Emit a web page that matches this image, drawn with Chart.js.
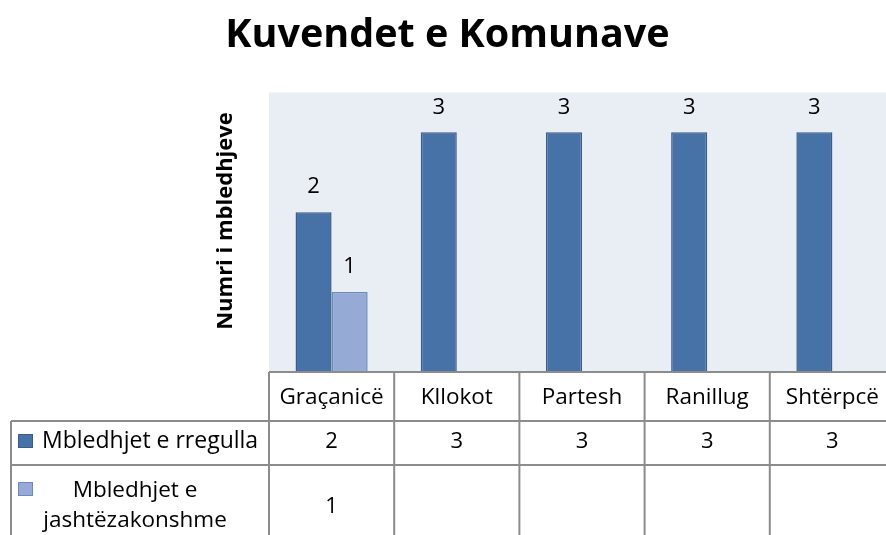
<!DOCTYPE html>
<html>
<head>
<meta charset="utf-8">
<script src="https://cdn.jsdelivr.net/npm/chart.js@4/dist/chart.umd.min.js"></script>
<style>
html,body{margin:0;padding:0;overflow:hidden;background:#fff;}
#wrap{position:relative;width:896px;height:535px;}
</style>
</head>
<body>
<div id="wrap"><canvas id="c" width="896" height="535"></canvas></div>
<script>
const chartTitle = 'Kuvendet e Komunave';
const yAxisTitle = 'Numri i mbledhjeve';
const categories = ['Graçanicë', 'Kllokot', 'Partesh', 'Ranillug', 'Shtërpcë'];
const seriesNames = ['Mbledhjet e rregulla', 'Mbledhjet e jashtëzakonshme'];
const regularMeetings = [2, 3, 3, 3, 3];
const extraordinaryMeetings = [1, null, null, null, null];
const seriesLabelLines = [['Mbledhjet e rregulla'], ['Mbledhjet e', 'jashtëzakonshme']];

const FONT = '"Open Sans", sans-serif';
const darkFill = '#4672A8', darkBorder = '#385D8A';
const lightFill = '#95ABD5', lightBorder = '#6D88BA';
const plotBg = '#E9EDF4';
const lineColor = '#8C8C8C';

const bgPlugin = {
  id: 'plotBg',
  beforeDraw(chart) {
    const {ctx, chartArea: a} = chart;
    ctx.save();
    ctx.fillStyle = plotBg;
    ctx.fillRect(a.left, a.top, a.right - a.left, a.bottom - a.top);
    ctx.restore();
  }
};

const yTitlePlugin = {
  id: 'yTitle',
  afterDraw(chart) {
    const ctx = chart.ctx;
    ctx.save();
    ctx.translate(226, 221);
    ctx.rotate(-Math.PI / 2);
    ctx.font = 'bold 22px ' + FONT;
    ctx.fillStyle = '#000';
    ctx.textAlign = 'center';
    ctx.textBaseline = 'middle';
    ctx.fillText(yAxisTitle, 0, 0);
    ctx.restore();
  }
};

const labelPlugin = {
  id: 'barLabels',
  afterDatasetsDraw(chart) {
    const ctx = chart.ctx;
    ctx.save();
    ctx.font = '22px ' + FONT;
    ctx.fillStyle = '#000';
    ctx.textAlign = 'center';
    ctx.textBaseline = 'middle';
    chart.data.datasets.forEach((ds, di) => {
      const meta = chart.getDatasetMeta(di);
      meta.data.forEach((bar, i) => {
        const v = ds.data[i];
        if (v === null || v === undefined) return;
        ctx.fillText(String(v), bar.x, bar.y - 25);
      });
    });
    ctx.restore();
  }
};

const tablePlugin = {
  id: 'dataTable',
  afterDraw(chart) {
    const ctx = chart.ctx;
    const xs = chart.scales.x;
    const a = chart.chartArea;
    const n = categories.length;
    const w = (xs.right - xs.left) / n;
    const top = a.bottom;
    const rowTops = [top + 49, top + 93];
    const bottom = 540;
    const leftX = 11;
    ctx.save();
    ctx.strokeStyle = lineColor;
    ctx.lineWidth = 2;
    ctx.beginPath();
    ctx.moveTo(xs.left, top); ctx.lineTo(xs.right + 5, top);
    rowTops.forEach(y => { ctx.moveTo(leftX, y); ctx.lineTo(xs.right + 5, y); });
    for (let i = 0; i <= n; i++) {
      const x = xs.left + i * w;
      ctx.moveTo(x, top); ctx.lineTo(x, bottom);
    }
    ctx.moveTo(leftX, rowTops[0]); ctx.lineTo(leftX, bottom);
    ctx.stroke();

    const fills = [darkFill, lightFill], borders = [darkBorder, lightBorder];
    const keyY = [rowTops[0] + 13, rowTops[1] + 17];
    seriesNames.forEach((name, r) => {
      ctx.fillStyle = fills[r];
      ctx.strokeStyle = borders[r];
      ctx.lineWidth = 1;
      ctx.fillRect(18.5, keyY[r] + 0.5, 14, 13);
      ctx.strokeRect(18.5, keyY[r] + 0.5, 14, 13);
    });
    ctx.fillStyle = '#000';
    ctx.textBaseline = 'alphabetic';
    ctx.textAlign = 'left';
    ctx.font = '23px ' + FONT;
    ctx.fillText(seriesLabelLines[0][0], 42, rowTops[0] + 27);
    ctx.font = '22.5px ' + FONT;
    ctx.textAlign = 'center';
    ctx.fillText(seriesLabelLines[1][0], 135, rowTops[1] + 32);
    ctx.fillText(seriesLabelLines[1][1], 135, rowTops[1] + 62);

    const series = [regularMeetings, extraordinaryMeetings];
    const valY = [rowTops[0] + 21, rowTops[1] + 42];
    ctx.font = '22px ' + FONT;
    ctx.textBaseline = 'middle';
    series.forEach((vals, r) => {
      vals.forEach((v, i) => {
        if (v === null) return;
        ctx.fillText(String(v), xs.getPixelForValue(i), valY[r]);
      });
    });
    ctx.restore();
  }
};

new Chart(document.getElementById('c'), {
  type: 'bar',
  data: {
    labels: categories,
    datasets: [
      {label: seriesNames[0], data: regularMeetings, backgroundColor: darkFill, borderColor: darkBorder, borderWidth: 1.5},
      {label: seriesNames[1], data: extraordinaryMeetings, backgroundColor: lightFill, borderColor: lightBorder, borderWidth: 1.5}
    ]
  },
  options: {
    responsive: false,
    animation: false,
    layout: {padding: {left: 0, right: 1, top: 0, bottom: 0}},
    datasets: {bar: {categoryPercentage: 0.576, barPercentage: 1}},
    plugins: {
      legend: {display: false},
      tooltip: {enabled: false},
      title: {
        display: true,
        text: chartTitle,
        color: '#000',
        font: {family: FONT, size: 39.5, weight: 'bold'},
        padding: {top: 12, bottom: 33}
      }
    },
    scales: {
      x: {
        grid: {display: false},
        border: {display: false},
        ticks: {color: '#000', font: {family: FONT, size: 22.5}, padding: 4, maxRotation: 0, autoSkip: false},
        afterFit(s) { s.height = 163; }
      },
      y: {
        min: 0, max: 3.5,
        grid: {display: false},
        border: {display: false},
        ticks: {display: false},
        afterFit(s) { s.width = 269; }
      }
    }
  },
  plugins: [bgPlugin, labelPlugin, tablePlugin, yTitlePlugin]
});
</script>
</body>
</html>
